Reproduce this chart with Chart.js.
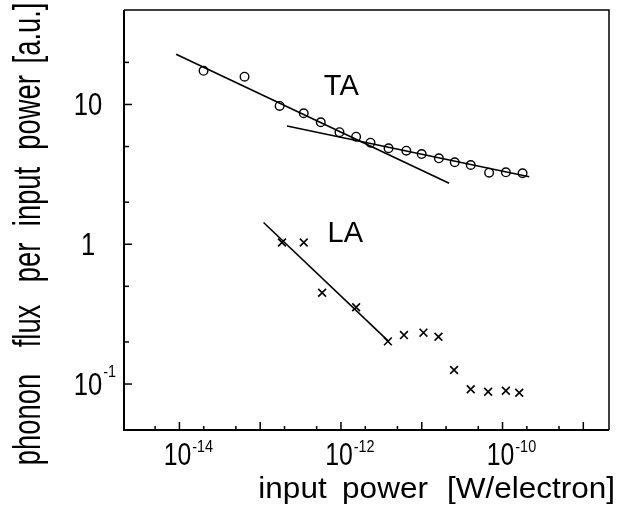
<!DOCTYPE html>
<html><head><meta charset="utf-8">
<style>html,body{margin:0;padding:0;background:#fff;}canvas{display:block;}</style>
<script src="https://cdn.jsdelivr.net/npm/chart.js@4.4.1/dist/chart.umd.min.js"></script>
</head><body>
<canvas id="c" width="623" height="520"></canvas>
<script>
// ---- data ----
const taPower = [1.99e-14, 6.40e-14, 1.74e-13, 3.46e-13, 5.62e-13, 9.58e-13, 1.54e-12, 2.32e-12, 3.88e-12, 6.44e-12, 9.97e-12, 1.63e-11, 2.56e-11, 4.04e-11, 6.82e-11, 1.10e-10, 1.77e-10];
const taFlux  = [17.4, 15.8, 9.76, 8.65, 7.46, 6.33, 5.88, 5.33, 4.86, 4.67, 4.42, 4.12, 3.86, 3.69, 3.25, 3.27, 3.22];
const laPower = [1.86e-13, 3.46e-13, 5.84e-13, 1.54e-12, 3.81e-12, 6.02e-12, 1.05e-11, 1.61e-11, 2.51e-11, 4.04e-11, 6.63e-11, 1.10e-10, 1.61e-10];
const laFlux  = [1.03, 1.03, 0.450, 0.354, 0.202, 0.224, 0.233, 0.218, 0.126, 0.0917, 0.0881, 0.0895, 0.0866];
const taFitLowPower  = [9.1e-15, 2.18e-11];
const taFitLowFlux   = [22.9, 2.73];
const taFitHighPower = [2.15e-13, 2.14e-10];
const taFitHighFlux  = [7.02, 3.04];
const laFitPower = [1.10e-13, 3.92e-12];
const laFitFlux  = [1.43, 0.201];
const seriesNames = ['TA', 'LA'];

// ---- axes ----
const xMin = 2.06e-15, xMax = 2.08e-9;
const yMin = 0.0469, yMax = 47.4;
const xTickValues = [5e-15, 1e-14, 2e-14, 5e-14, 1e-13, 2e-13, 5e-13, 1e-12, 2e-12, 5e-12, 1e-11, 2e-11, 5e-11, 1e-10, 2e-10, 5e-10, 1e-9];
const yTickValues = [0.1, 0.2, 0.5, 1, 2, 5, 10, 20];
const xLabelValues = [1e-14, 1e-12, 1e-10];
const xLabelBase = ['10', '10', '10'];
const xLabelExp = ['-14', '-12', '-10'];
const yLabelValues = [10, 1, 0.1];
const yLabelBase = ['10', '1', '10'];
const yLabelExp = ['', '', '-1'];
const xTitle = 'input power [W/electron]';
const yTitle = 'phonon flux per input power [a.u.]';

const FONT = '"Liberation Sans", Arial, sans-serif';

function pts(xs, ys) { return xs.map((x, i) => ({ x: x, y: ys[i] })); }

function txt(ctx, s, x, y, size, sx, align) {
  ctx.save();
  ctx.font = size + 'px ' + FONT;
  ctx.translate(x, y);
  ctx.scale(sx, 1);
  ctx.textAlign = align;
  ctx.textBaseline = 'alphabetic';
  ctx.fillText(s, 0, 0);
  const w = ctx.measureText(s).width * sx;
  ctx.restore();
  return w;
}
function isDecade(v) { const l = Math.log10(v); return Math.abs(l - Math.round(l)) < 1e-6; }

const decor = {
  id: 'decor',
  afterDraw(chart) {
    const ctx = chart.ctx, ca = chart.chartArea;
    const xs = chart.scales.x, ys = chart.scales.y;
    ctx.save();
    ctx.strokeStyle = '#000'; ctx.fillStyle = '#000';
    // frame
    ctx.lineWidth = 1.5;
    ctx.beginPath();
    ctx.moveTo(ca.left, ca.top); ctx.lineTo(ca.right, ca.top); ctx.lineTo(ca.right, ca.bottom);
    ctx.stroke();
    ctx.lineWidth = 2;
    ctx.beginPath();
    ctx.moveTo(ca.left, ca.top); ctx.lineTo(ca.left, ca.bottom); ctx.lineTo(ca.right, ca.bottom);
    ctx.stroke();
    // inward ticks
    ctx.lineWidth = 1.5;
    xTickValues.forEach(v => {
      const p = xs.getPixelForValue(v);
      const len = isDecade(v) ? 8 : 4;
      ctx.beginPath(); ctx.moveTo(p, ca.bottom); ctx.lineTo(p, ca.bottom - len); ctx.stroke();
    });
    yTickValues.forEach(v => {
      const p = ys.getPixelForValue(v);
      const len = isDecade(v) ? 8 : 5;
      ctx.beginPath(); ctx.moveTo(ca.left, p); ctx.lineTo(ca.left + len, p); ctx.stroke();
    });
    // x tick labels
    xLabelValues.forEach((v, i) => {
      const p = xs.getPixelForValue(v) - 2;
      const by = ca.bottom + 35;
      const w = txt(ctx, xLabelBase[i], p, by, 31, 0.8, 'center');
      txt(ctx, xLabelExp[i], p + w / 2 + 1, by - 13, 16, 0.9, 'left');
    });
    // y tick labels
    yLabelValues.forEach((v, i) => {
      const p = ys.getPixelForValue(v);
      const cx = 88;
      const w = txt(ctx, yLabelBase[i], cx, p + 11, 32, 0.8, 'center');
      if (yLabelExp[i]) txt(ctx, yLabelExp[i], cx + w / 2 + 1, p - 7, 16, 0.9, 'left');
    });
    // x axis title: words centred where they sit in the figure (wide word gaps)
    const xWords = xTitle.split(' ');
    const xCentres = [292.5, 385, 531];
    xWords.forEach((w, i) => txt(ctx, w, xCentres[i], 498, 30, 1.05, 'center'));
    // y axis title, rotated
    const yWords = yTitle.split(' ');
    const yCentres = [419.5, 326, 262.5, 196.5, 112.5, 33];
    ctx.save();
    ctx.translate(40, 0);
    ctx.rotate(-Math.PI / 2);
    yWords.forEach((w, i) => txt(ctx, w, -yCentres[i], 0, 38, 0.72, 'center'));
    ctx.restore();
    // series annotations
    txt(ctx, seriesNames[0], xs.getPixelForValue(1.01e-12), ys.getPixelForValue(11.7), 29, 1, 'center');
    txt(ctx, seriesNames[1], xs.getPixelForValue(1.13e-12), ys.getPixelForValue(1.04), 29, 1, 'center');
    ctx.restore();
  }
};

const lineStyle = { showLine: true, pointRadius: 0, borderColor: '#000', borderWidth: 1.6, fill: false };

new Chart(document.getElementById('c'), {
  type: 'scatter',
  data: {
    datasets: [
      Object.assign({ label: 'TA fit low', data: pts(taFitLowPower, taFitLowFlux) }, lineStyle),
      Object.assign({ label: 'TA fit high', data: pts(taFitHighPower, taFitHighFlux) }, lineStyle),
      Object.assign({ label: 'LA fit', data: pts(laFitPower, laFitFlux) }, lineStyle),
      { label: 'TA', data: pts(taPower, taFlux), pointStyle: 'circle', pointRadius: 4.3,
        pointBorderWidth: 1.4, borderColor: '#000', backgroundColor: 'rgba(255,255,255,0)', showLine: false },
      { label: 'LA', data: pts(laPower, laFlux), pointStyle: 'crossRot', pointRadius: 5.5,
        pointBorderWidth: 1.6, borderColor: '#000', backgroundColor: '#000', showLine: false }
    ]
  },
  options: {
    responsive: false, animation: false, devicePixelRatio: 1, events: [],
    layout: { padding: { left: 124, top: 10, right: 14, bottom: 90 } },
    plugins: { legend: { display: false }, tooltip: { enabled: false } },
    scales: {
      x: { type: 'logarithmic', min: xMin, max: xMax, display: false },
      y: { type: 'logarithmic', min: yMin, max: yMax, display: false }
    }
  },
  plugins: [decor]
});
</script>
</body></html>
